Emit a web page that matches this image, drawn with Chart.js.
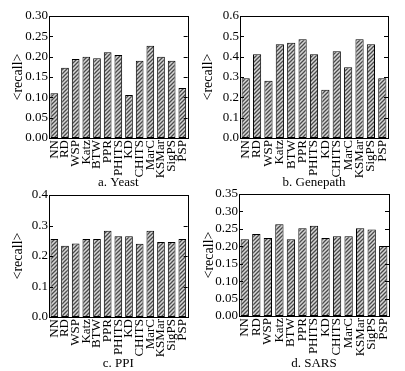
<!DOCTYPE html>
<html>
<head>
<meta charset="utf-8">
<script src="https://cdn.jsdelivr.net/npm/chart.js@4/dist/chart.umd.min.js"></script>
<style>
  body { margin: 0; background: #fff; }
  #wrap { position: relative; width: 405px; height: 371px; overflow: hidden; }
  .panel { position: absolute; }
</style>
</head>
<body>
<div id="wrap">
  <div class="panel" style="left:0;top:0;width:200px;height:190px"><canvas id="cYeast"></canvas></div>
  <div class="panel" style="left:200px;top:0;width:205px;height:190px"><canvas id="cGenepath"></canvas></div>
  <div class="panel" style="left:0;top:182px;width:200px;height:189px"><canvas id="cPPI"></canvas></div>
  <div class="panel" style="left:200px;top:182px;width:205px;height:189px"><canvas id="cSARS"></canvas></div>
</div>
<script>
/*************** Data ****************/
var methods = ['NN', 'RD', 'WSP', 'Katz', 'BTW', 'PPR', 'PHITS', 'KD', 'CHITS', 'MarC', 'KSMar', 'SigPS', 'PSP'];

var yeastRecall    = [0.110, 0.173, 0.194, 0.200, 0.196, 0.211, 0.204, 0.106, 0.190, 0.227, 0.200, 0.190, 0.123];
var genepathRecall = [0.294, 0.412, 0.281, 0.461, 0.468, 0.486, 0.412, 0.237, 0.427, 0.348, 0.486, 0.461, 0.294];
var ppiRecall      = [0.256, 0.234, 0.241, 0.256, 0.256, 0.283, 0.265, 0.265, 0.240, 0.283, 0.246, 0.246, 0.256];
var sarsRecall     = [0.220, 0.235, 0.224, 0.263, 0.220, 0.252, 0.259, 0.224, 0.229, 0.229, 0.252, 0.248, 0.201];

var panelTitles = ['a. Yeast', 'b. Genepath', 'c. PPI', 'd. SARS'];
var yMax  = [0.30, 0.6, 0.4, 0.35];
var yTickCount = [7, 7, 5, 8];
var yDecimals = [2, 1, 1, 2];

/*************** Hatch pattern ****************/
function makeHatch() {
    var c = document.createElement('canvas');
    c.width = 4; c.height = 4;
    var g = c.getContext('2d');
    g.fillStyle = '#d6d6d6';
    g.fillRect(0, 0, 4, 4);
    g.strokeStyle = '#4a4a4a';
    g.lineWidth = 1.3;
    g.beginPath();
    g.moveTo(0, 4); g.lineTo(4, 0);
    g.moveTo(-1, 1); g.lineTo(1, -1);
    g.moveTo(3, 5); g.lineTo(5, 3);
    g.stroke();
    return g.createPattern(c, 'repeat');
}

/*************** Frame with inward ticks ****************/
var framePlugin = {
    id: 'frame',
    afterDraw: function (chart) {
        var ctx = chart.ctx, a = chart.chartArea, y = chart.scales.y;
        ctx.save();
        ctx.strokeStyle = '#000';
        ctx.lineWidth = 1;
        ctx.strokeRect(Math.round(a.left) + 0.5, Math.round(a.top) + 0.5,
            Math.round(a.right - a.left), Math.round(a.bottom - a.top));
        ctx.beginPath();
        y.ticks.forEach(function (t) {
            var py = Math.round(y.getPixelForValue(t.value)) + 0.5;
            ctx.moveTo(a.left, py); ctx.lineTo(a.left + 4, py);
            ctx.moveTo(a.right, py); ctx.lineTo(a.right - 4, py);
        });
        ctx.stroke();
        ctx.restore();
    }
};

/*************** Creating charts ****************/
function createChart(id, values, idx, layout) {
    var dec = yDecimals[idx];
    return new Chart(document.getElementById(id), {
        type: 'bar',
        data: {
            labels: methods,
            datasets: [{
                data: values,
                backgroundColor: makeHatch(),
                borderColor: '#000',
                borderWidth: 1,
                borderSkipped: false,
                barPercentage: 0.72,
                categoryPercentage: 1
            }]
        },
        options: {
            responsive: true,
            maintainAspectRatio: false,
            animation: false,
            layout: { padding: { top: layout.top, right: layout.right, left: 0, bottom: 0 } },
            plugins: { legend: { display: false }, tooltip: { enabled: false } },
            scales: {
                x: {
                    grid: { display: false, drawTicks: false },
                    border: { display: false },
                    ticks: {
                        color: '#000', maxRotation: 90, minRotation: 90, autoSkip: false, padding: 2,
                        font: { family: 'Liberation Serif', size: 13 }
                    },
                    title: {
                        display: true, text: panelTitles[idx], color: '#000',
                        font: { family: 'Liberation Serif', size: 13 }, padding: { top: 0, bottom: 0 }
                    },
                    afterFit: function (s) { s.height = layout.xh; }
                },
                y: {
                    min: 0, max: yMax[idx],
                    grid: { display: false, drawTicks: false },
                    border: { display: false },
                    ticks: {
                        count: yTickCount[idx], autoSkip: false, color: '#000', padding: 1,
                        font: { family: 'Liberation Serif', size: 13 },
                        callback: function (v) { return Number(v).toFixed(dec); }
                    },
                    title: {
                        display: true, text: '<recall>', color: '#000',
                        font: { family: 'Liberation Serif', size: 14 }, padding: { top: layout.tp, bottom: 0 }
                    },
                    afterFit: function (s) { s.width = layout.yw; }
                }
            }
        },
        plugins: [framePlugin]
    });
}

createChart('cYeast', yeastRecall, 0, { top: 16, right: 2, xh: 52, yw: 49, tp: 10 });
createChart('cGenepath', genepathRecall, 1, { top: 16, right: 17, xh: 52, yw: 40, tp: 0 });
createChart('cPPI', ppiRecall, 2, { top: 13, right: 2, xh: 54, yw: 49, tp: 10 });
createChart('cSARS', sarsRecall, 3, { top: 12, right: 16, xh: 55, yw: 39, tp: 1 });
</script>
</body>
</html>
